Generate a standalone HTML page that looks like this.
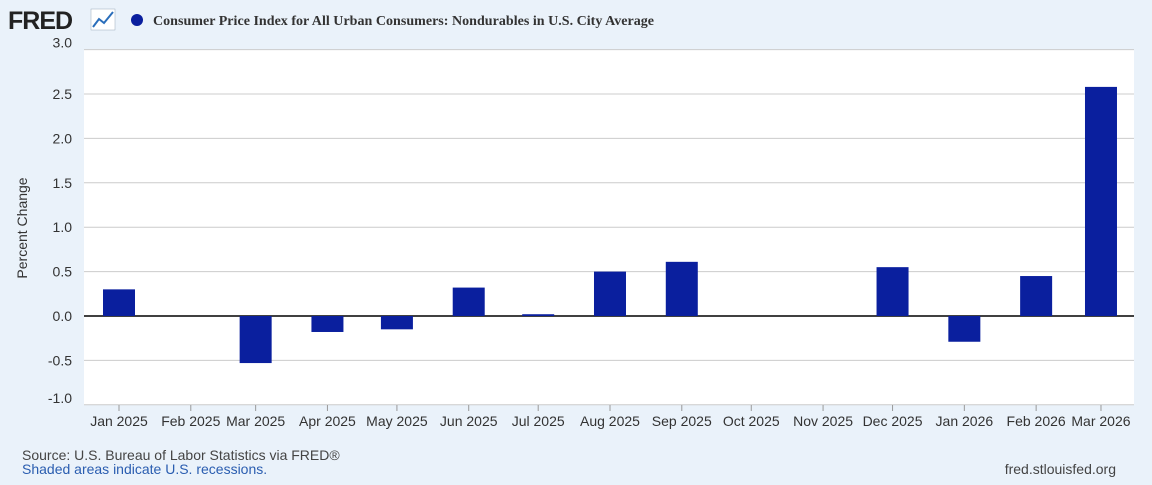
<!DOCTYPE html>
<html><head><meta charset="utf-8"><style>
body{margin:0;background:#eaf2fa;width:1152px;height:480px;overflow:hidden;font-family:"Liberation Sans",sans-serif;}
</style></head><body>
<svg width="1152" height="480">
<rect x="0" y="0" width="1152" height="480" fill="#eaf2fa"/>
<text x="8" y="29" font-size="25" font-weight="bold" fill="#222" font-family="Liberation Sans,sans-serif" letter-spacing="-1">FRED</text>
<g><rect x="91" y="9" width="24" height="21" fill="#fff" stroke="#9ab" stroke-width="0.5"/><polyline points="93,27 99,19 104,23 113,12" fill="none" stroke="#2a6ebb" stroke-width="2"/></g>
<circle cx="137" cy="20" r="6" fill="#0a1f9e"/>
<text x="153" y="25" font-size="14" font-weight="bold" fill="#333" font-family="Liberation Serif,serif" textLength="501">Consumer Price Index for All Urban Consumers: Nondurables in U.S. City Average</text>
<rect x="84" y="50" width="1050" height="355" fill="#fff"/>
<g id="grid"></g><g id="bars"></g><g id="xaxis"></g>
<text transform="translate(27,228) rotate(-90)" text-anchor="middle" font-size="14" fill="#333">Percent Change</text>
<text x="22" y="460" font-size="14" fill="#444">Source: U.S. Bureau of Labor Statistics via FRED®</text>
<text x="22" y="474" font-size="14" fill="#2a5db0">Shaded areas indicate U.S. recessions.</text>
<text x="1116" y="474" text-anchor="end" font-size="14" fill="#444">fred.stlouisfed.org</text>
</svg>
<script>
const categories=["Jan 2025","Feb 2025","Mar 2025","Apr 2025","May 2025","Jun 2025","Jul 2025","Aug 2025","Sep 2025","Oct 2025","Nov 2025","Dec 2025","Jan 2026","Feb 2026","Mar 2026"];
const values=[0.30,null,-0.53,-0.18,-0.15,0.32,0.02,0.50,0.61,null,null,0.55,-0.29,0.45,2.58];
const yTicks=[3.0,2.5,2.0,1.5,1.0,0.5,0.0,-0.5,-1.0];
const NS="http://www.w3.org/2000/svg";
function y(v){return 316-v*88.8;}
const monthNames=["Jan","Feb","Mar","Apr","May","Jun","Jul","Aug","Sep","Oct","Nov","Dec"];
const t0=Date.UTC(2025,0,1);
function x(c){const p=c.split(" ");const m=monthNames.indexOf(p[0]);const d=(Date.UTC(+p[1],m,1)-t0)/86400000;return 119+d*2.316;}
function mk(tag,a,p){const e=document.createElementNS(NS,tag);for(const k in a)e.setAttribute(k,a[k]);document.getElementById(p).appendChild(e);return e;}
yTicks.forEach(v=>{
 const l=mk("line",{x1:84,x2:1134,y1:y(v),y2:y(v),stroke:v===0?"#000":"#ccc","stroke-width":v===0?1.5:1},"grid");
 
 
 const t=mk("text",{x:72,y:y(v)-(v===3||v===-1?2:-5),"text-anchor":"end","font-size":14,fill:"#333"},"grid");
 t.textContent=v.toFixed(1);
 
 
});
categories.forEach((c,i)=>{
 const cx=x(c);
 if(values[i]!==null){
  const v=values[i];
  const r=mk("rect",{x:cx-16,width:32,y:Math.min(y(v),y(0)),height:Math.abs(y(v)-y(0)),fill:"#0a1f9e"},"bars");
  
  
 }
 const tk=mk("line",{x1:cx,x2:cx,y1:405,y2:411,stroke:"#999"},"xaxis");
 
 
 const t=mk("text",{x:cx,y:426,"text-anchor":"middle","font-size":14,fill:"#333"},"xaxis");
 t.textContent=c;
 
 
});
</script>
</body></html>
